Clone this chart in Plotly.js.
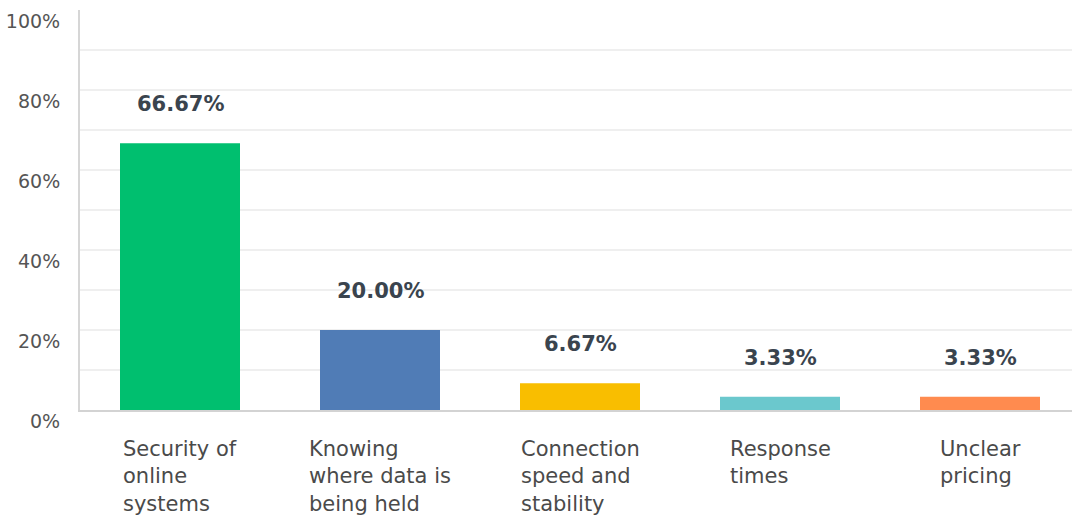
<!DOCTYPE html>
<html>
<head>
<meta charset="utf-8">
<script src="https://cdn.plot.ly/plotly-3.0.1.min.js"></script>
<style>html,body{margin:0;padding:0;background:#fff;}#chart{width:1073px;height:524px;}</style>
</head>
<body>
<div id="chart"></div>
<script>
const categories = ["Security of online systems", "Knowing where data is being held", "Connection speed and stability", "Response times", "Unclear pricing"];
const tickLabels = ["Security of<br>online<br>systems", "Knowing<br>where data is<br>being held", "Connection<br>speed and<br>stability", "Response<br>times", "Unclear<br>pricing"];
const values = [66.67, 20.00, 6.67, 3.33, 3.33];
const valueLabels = ["66.67%", "20.00%", "6.67%", "3.33%", "3.33%"];
const colors = ["#00BF6F", "#507CB6", "#F9BE00", "#6BC8CD", "#FF8B4F"];
const yTicks = [0, 20, 40, 60, 80, 100];
const yTickText = ["0%", "20%", "40%", "60%", "80%", "100%"];

const font = "'DejaVu Sans', 'Noto Sans', sans-serif";

const trace = {
  type: "bar",
  x: categories,
  y: values,
  width: 0.6,
  marker: {color: colors},
  hoverinfo: "none",
  cliponaxis: false
};

const annotations = [];
categories.forEach((c, i) => {
  annotations.push({
    xref: "x", yref: "y", x: c, y: values[i],
    text: "<b>" + valueLabels[i] + "</b>", showarrow: false,
    xanchor: "center", yanchor: "middle", yshift: 39,
    font: {family: font, size: 21, color: "#3A444E"}
  });
  annotations.push({
    xref: "x", yref: "y", x: c, y: 0,
    text: tickLabels[i], showarrow: false,
    xanchor: "center", yanchor: "top", align: "left", yshift: -25,
    font: {family: font, size: 21, color: "#4A4A4A"}
  });
});

const layout = {
  width: 1073, height: 524,
  margin: {l: 80, r: 1, t: 10, b: 114, pad: 0},
  paper_bgcolor: "#fff", plot_bgcolor: "#fff",
  showlegend: false,
  xaxis: {
    type: "category",
    range: [-0.5, 4.46],
    showticklabels: false,
    showgrid: false,
    zeroline: false,
    showline: true, linecolor: "#D3D3D3", linewidth: 2,
    fixedrange: true
  },
  yaxis: {
    range: [0, 100],
    tickvals: yTicks,
    ticktext: yTickText,
    showgrid: true,
    gridcolor: "#EFEFEF", gridwidth: 2,
    minor: {dtick: 10, showgrid: true, gridcolor: "#EFEFEF", gridwidth: 2},
    zeroline: false,
    showline: true, linecolor: "#D6D6D6", linewidth: 2,
    ticks: "", ticklabelstandoff: 14, ticklabelshift: 11,
    tickfont: {family: font, size: 19, color: "#555"},
    fixedrange: true
  },
  annotations: annotations
};

Plotly.newPlot("chart", [trace], layout, {displayModeBar: false, staticPlot: true});
</script>
</body>
</html>
